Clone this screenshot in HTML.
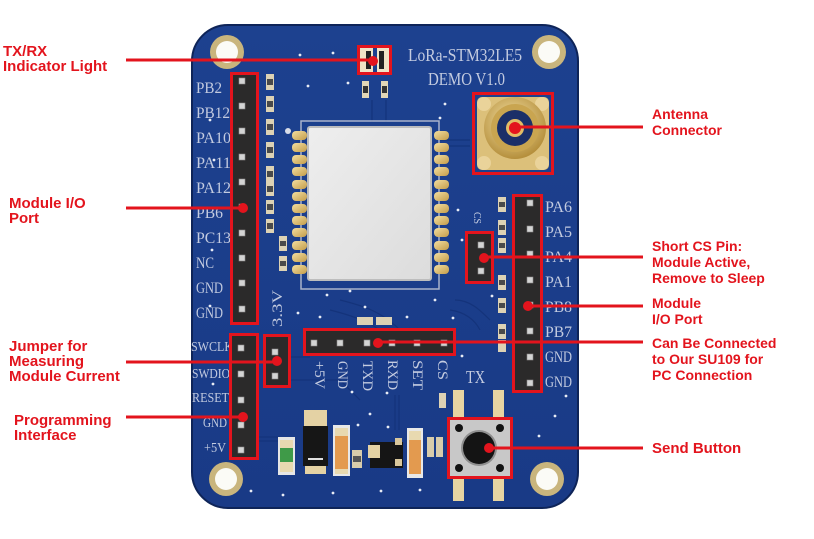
<!DOCTYPE html>
<html><head><meta charset="utf-8">
<style>
html,body{margin:0;padding:0;background:#fff;}
svg{display:block}
.lab{font-family:"Liberation Sans",sans-serif;font-weight:bold;fill:#e3141d;font-size:15px;}
.rl{font-size:14px;}
.silk{font-family:"Liberation Serif",serif;fill:#c3cbe0;}
</style></head><body>
<svg width="814" height="539" viewBox="0 0 814 539" xmlns="http://www.w3.org/2000/svg">
<defs>
<linearGradient id="board" x1="0" y1="0" x2="0" y2="1">
<stop offset="0" stop-color="#1d418f"/><stop offset="1" stop-color="#193a86"/>
</linearGradient>
<linearGradient id="gold" x1="0" y1="0" x2="1" y2="1"><stop offset="0" stop-color="#f3dea0"/><stop offset="1" stop-color="#c49d4a"/></linearGradient>
<radialGradient id="ring" cx="0.45" cy="0.4" r="0.6"><stop offset="0" stop-color="#f6e3a6"/><stop offset="1" stop-color="#b58f3c"/></radialGradient>
<linearGradient id="shield" x1="0" y1="0" x2="1" y2="1"><stop offset="0" stop-color="#eeeeee"/><stop offset="1" stop-color="#dcdcdc"/></linearGradient>
</defs>
<rect width="814" height="539" fill="#fff"/>
<!-- board -->
<rect x="192" y="25" width="386" height="483" rx="36" fill="url(#board)" stroke="#0e2458" stroke-width="2"/>
<!-- traces -->
<g stroke="#14337a" stroke-width="1.2" fill="none" opacity="0.9">
<path d="M259 437 H280"/><path d="M259 441 H280"/>
<path d="M291 357 H310 M291 380 H340 L360 400"/>
<path d="M372 100 V122 M386 100 V122"/>
<path d="M440 140 H470 M440 146 H470"/>
<path d="M455 300 C470 300 480 310 490 320 M450 310 C465 312 475 320 480 330"/>
<path d="M340 300 C360 305 380 310 400 330 M330 310 C350 315 365 320 380 330"/>
<path d="M395 395 V430 M399 395 V430"/>
</g>
<!-- vias -->
<g fill="#e8ecf5">
<circle cx="300" cy="55" r="1.4"/><circle cx="333" cy="53" r="1.4"/><circle cx="308" cy="86" r="1.4"/><circle cx="348" cy="83" r="1.4"/>
<circle cx="445" cy="104" r="1.4"/><circle cx="327" cy="295" r="1.4"/><circle cx="365" cy="307" r="1.4"/><circle cx="407" cy="317" r="1.4"/>
<circle cx="298" cy="313" r="1.4"/><circle cx="320" cy="317" r="1.4"/><circle cx="453" cy="318" r="1.4"/><circle cx="462" cy="240" r="1.4"/>
<circle cx="492" cy="296" r="1.4"/><circle cx="458" cy="210" r="1.4"/><circle cx="350" cy="291" r="1.4"/><circle cx="435" cy="300" r="1.4"/>
<circle cx="352" cy="392" r="1.4"/><circle cx="387" cy="393" r="1.4"/><circle cx="358" cy="425" r="1.4"/><circle cx="370" cy="414" r="1.4"/>
<circle cx="388" cy="427" r="1.4"/><circle cx="251" cy="491" r="1.4"/><circle cx="283" cy="495" r="1.4"/><circle cx="333" cy="493" r="1.4"/>
<circle cx="381" cy="491" r="1.4"/><circle cx="420" cy="490" r="1.4"/><circle cx="555" cy="416" r="1.4"/><circle cx="539" cy="436" r="1.4"/>
<circle cx="566" cy="396" r="1.4"/><circle cx="210" cy="120" r="1.4"/><circle cx="214" cy="160" r="1.4"/><circle cx="212" cy="250" r="1.4"/>
<circle cx="210" cy="306" r="1.4"/><circle cx="213" cy="384" r="1.4"/><circle cx="440" cy="118" r="1.4"/><circle cx="462" cy="356" r="1.4"/>
</g>
<!-- mounting holes -->
<g>
<circle cx="227" cy="52" r="17" fill="#c9b57d"/><circle cx="227" cy="52" r="11" fill="#fbfbf6"/>
<circle cx="549" cy="52" r="17" fill="#c9b57d"/><circle cx="549" cy="52" r="11" fill="#fbfbf6"/>
<circle cx="226" cy="479" r="17" fill="#c9b57d"/><circle cx="226" cy="479" r="11" fill="#fbfbf6"/>
<circle cx="547" cy="479" r="17" fill="#c9b57d"/><circle cx="547" cy="479" r="11" fill="#fbfbf6"/>
</g>
<!-- silk text top -->
<text class="silk" x="408" y="61" font-size="18" textLength="114" lengthAdjust="spacingAndGlyphs" fill="#d5dae6">LoRa-STM32LE5</text>
<text class="silk" x="428" y="85" font-size="18" textLength="77" lengthAdjust="spacingAndGlyphs" fill="#d5dae6">DEMO V1.0</text>
<!-- LEDs -->
<g>
<rect x="360" y="48" width="13" height="24" fill="#efe4c6"/><rect x="366" y="51" width="5" height="18" fill="#222"/>
<rect x="377" y="48" width="13" height="24" fill="#efe4c6"/><rect x="379" y="51" width="5" height="18" fill="#222"/>
<rect x="362" y="81" width="7" height="17" fill="#e2d6b6"/><rect x="363" y="86" width="5" height="7" fill="#333"/>
<rect x="381" y="81" width="7" height="17" fill="#e2d6b6"/><rect x="382" y="86" width="5" height="7" fill="#333"/>
</g>
<!-- left resistor column -->
<g>
<g fill="#ddd2b4"><rect x="266" y="74" width="8" height="16"/><rect x="266" y="96" width="8" height="16"/><rect x="266" y="119" width="8" height="16"/><rect x="266" y="142" width="8" height="16"/><rect x="266" y="166" width="8" height="16"/><rect x="266" y="182" width="8" height="14"/><rect x="266" y="200" width="8" height="14"/><rect x="266" y="219" width="8" height="14"/><rect x="279" y="236" width="8" height="15"/><rect x="279" y="256" width="8" height="15"/></g>
<g fill="#4a4a4a"><rect x="267" y="79" width="6" height="6"/><rect x="267" y="101" width="6" height="6"/><rect x="267" y="124" width="6" height="6"/><rect x="267" y="147" width="6" height="6"/><rect x="267" y="171" width="6" height="6"/><rect x="267" y="186" width="6" height="6"/><rect x="267" y="204" width="6" height="6"/><rect x="267" y="223" width="6" height="6"/><rect x="280" y="241" width="6" height="5"/><rect x="280" y="261" width="6" height="5"/></g>
</g>
<!-- right resistor column -->
<g>
<g fill="#ddd2b4"><rect x="498" y="197" width="8" height="15"/><rect x="498" y="220" width="8" height="15"/><rect x="498" y="238" width="8" height="15"/><rect x="498" y="275" width="8" height="15"/><rect x="498" y="298" width="8" height="15"/><rect x="498" y="324" width="8" height="15"/><rect x="498" y="340" width="8" height="12"/></g>
<g fill="#4a4a4a"><rect x="499" y="202" width="6" height="5"/><rect x="499" y="225" width="6" height="5"/><rect x="499" y="243" width="6" height="5"/><rect x="499" y="280" width="6" height="5"/><rect x="499" y="303" width="6" height="5"/><rect x="499" y="329" width="6" height="5"/></g>
</g>
<!-- module -->
<rect x="301" y="121" width="138" height="168" fill="none" stroke="#a9b3cb" stroke-width="1.5"/>
<g fill="url(#gold)">
<rect x="292" y="131" width="15" height="9" rx="4"/><rect x="292" y="143" width="15" height="9" rx="4"/><rect x="292" y="155" width="15" height="9" rx="4"/><rect x="292" y="167" width="15" height="9" rx="4"/><rect x="292" y="180" width="15" height="9" rx="4"/><rect x="292" y="192" width="15" height="9" rx="4"/><rect x="292" y="204" width="15" height="9" rx="4"/><rect x="292" y="216" width="15" height="9" rx="4"/><rect x="292" y="228" width="15" height="9" rx="4"/><rect x="292" y="241" width="15" height="9" rx="4"/><rect x="292" y="253" width="15" height="9" rx="4"/><rect x="292" y="265" width="15" height="9" rx="4"/>
<rect x="434" y="131" width="15" height="9" rx="4"/><rect x="434" y="143" width="15" height="9" rx="4"/><rect x="434" y="155" width="15" height="9" rx="4"/><rect x="434" y="167" width="15" height="9" rx="4"/><rect x="434" y="180" width="15" height="9" rx="4"/><rect x="434" y="192" width="15" height="9" rx="4"/><rect x="434" y="204" width="15" height="9" rx="4"/><rect x="434" y="216" width="15" height="9" rx="4"/><rect x="434" y="228" width="15" height="9" rx="4"/><rect x="434" y="241" width="15" height="9" rx="4"/><rect x="434" y="253" width="15" height="9" rx="4"/><rect x="434" y="265" width="15" height="9" rx="4"/>
</g>
<rect x="308" y="127" width="123" height="153" rx="2" fill="url(#shield)" stroke="#bdbdbd" stroke-width="2"/>
<circle cx="288" cy="131" r="3" fill="#d8dde8"/>
<!-- antenna -->
<g>
<rect x="477" y="97" width="72" height="73" rx="5" fill="#dcc07a"/>
<circle cx="484" cy="104" r="7" fill="#ead39a"/><circle cx="542" cy="104" r="7" fill="#ead39a"/>
<circle cx="484" cy="163" r="7" fill="#ead39a"/><circle cx="542" cy="163" r="7" fill="#ead39a"/>
<circle cx="515" cy="128" r="31" fill="url(#ring)"/>
<circle cx="515" cy="128" r="24" fill="#c9a550"/>
<circle cx="515" cy="128" r="18" fill="#1b2f68"/>
<circle cx="515" cy="128" r="9" fill="#e2bd66"/>
</g>
<!-- left header labels -->
<g class="silk" font-size="16">
<text x="196" y="93" textLength="26" lengthAdjust="spacingAndGlyphs">PB2</text>
<text x="196" y="118" textLength="34" lengthAdjust="spacingAndGlyphs">PB12</text>
<text x="196" y="143" textLength="35" lengthAdjust="spacingAndGlyphs">PA10</text>
<text x="196" y="168" textLength="35" lengthAdjust="spacingAndGlyphs">PA11</text>
<text x="196" y="193" textLength="35" lengthAdjust="spacingAndGlyphs">PA12</text>
<text x="196" y="218" textLength="27" lengthAdjust="spacingAndGlyphs">PB6</text>
<text x="196" y="243" textLength="35" lengthAdjust="spacingAndGlyphs">PC13</text>
<text x="196" y="268" textLength="18" lengthAdjust="spacingAndGlyphs">NC</text>
<text x="196" y="293" textLength="27" lengthAdjust="spacingAndGlyphs">GND</text>
<text x="196" y="318" textLength="27" lengthAdjust="spacingAndGlyphs">GND</text>
</g>
<g class="silk" font-size="14">
<text x="191" y="351" textLength="42" lengthAdjust="spacingAndGlyphs">SWCLK</text>
<text x="192" y="378" textLength="38" lengthAdjust="spacingAndGlyphs">SWDIO</text>
<text x="192" y="402" textLength="37" lengthAdjust="spacingAndGlyphs">RESET</text>
<text x="203" y="427" textLength="24" lengthAdjust="spacingAndGlyphs">GND</text>
<text x="204" y="452" textLength="22" lengthAdjust="spacingAndGlyphs">+5V</text>
</g>
<!-- right header labels -->
<g class="silk" font-size="16">
<text x="545" y="212" textLength="27" lengthAdjust="spacingAndGlyphs">PA6</text>
<text x="545" y="237" textLength="27" lengthAdjust="spacingAndGlyphs">PA5</text>
<text x="545" y="262" textLength="27" lengthAdjust="spacingAndGlyphs">PA4</text>
<text x="545" y="287" textLength="27" lengthAdjust="spacingAndGlyphs">PA1</text>
<text x="545" y="312" textLength="27" lengthAdjust="spacingAndGlyphs">PB8</text>
<text x="545" y="337" textLength="27" lengthAdjust="spacingAndGlyphs">PB7</text>
<text x="545" y="362" textLength="27" lengthAdjust="spacingAndGlyphs">GND</text>
<text x="545" y="387" textLength="27" lengthAdjust="spacingAndGlyphs">GND</text>
</g>
<!-- rotated silk -->
<g class="silk" font-size="15">
<text transform="translate(315,361) rotate(90)" textLength="28" lengthAdjust="spacingAndGlyphs">+5V</text>
<text transform="translate(338,361) rotate(90)" textLength="28" lengthAdjust="spacingAndGlyphs">GND</text>
<text transform="translate(363,361) rotate(90)" textLength="30" lengthAdjust="spacingAndGlyphs">TXD</text>
<text transform="translate(388,360) rotate(90)" textLength="30" lengthAdjust="spacingAndGlyphs">RXD</text>
<text transform="translate(413,360) rotate(90)" textLength="30" lengthAdjust="spacingAndGlyphs">SET</text>
<text transform="translate(438,360) rotate(90)" textLength="20" lengthAdjust="spacingAndGlyphs">CS</text>
<text transform="translate(282,327) rotate(-90)" textLength="37" lengthAdjust="spacingAndGlyphs">3.3V</text>
<text transform="translate(474,212) rotate(90)" font-size="10" textLength="12" lengthAdjust="spacingAndGlyphs">CS</text>
</g>
<text class="silk" x="466" y="383" font-size="18" textLength="19" lengthAdjust="spacingAndGlyphs">TX</text>
<!-- small parts above bottom header -->
<rect x="357" y="317" width="16" height="8" fill="#ddd2b4"/><rect x="376" y="317" width="16" height="8" fill="#ddd2b4"/>
<!-- headers bodies -->
<g fill="#2b2a2a">
<rect x="232" y="74" width="25" height="249"/>
<rect x="514" y="196" width="27" height="195"/>
<rect x="231" y="335" width="26" height="123"/>
<rect x="265" y="336" width="24" height="50"/>
<rect x="467" y="233" width="25" height="49"/>
<rect x="305" y="330" width="149" height="24"/>
</g>
<!-- pins -->
<g fill="#d4d4d4" stroke="#8a8a8a" stroke-width="0.6">
<rect x="239" y="78" width="6" height="6"/><rect x="239" y="103" width="6" height="6"/><rect x="239" y="128" width="6" height="6"/><rect x="239" y="154" width="6" height="6"/><rect x="239" y="179" width="6" height="6"/><rect x="239" y="204" width="6" height="6"/><rect x="239" y="230" width="6" height="6"/><rect x="239" y="255" width="6" height="6"/><rect x="239" y="280" width="6" height="6"/><rect x="239" y="306" width="6" height="6"/>
<rect x="527" y="200" width="6" height="6"/><rect x="527" y="226" width="6" height="6"/><rect x="527" y="251" width="6" height="6"/><rect x="527" y="277" width="6" height="6"/><rect x="527" y="302" width="6" height="6"/><rect x="527" y="328" width="6" height="6"/><rect x="527" y="354" width="6" height="6"/><rect x="527" y="380" width="6" height="6"/>
<rect x="238" y="345" width="6" height="6"/><rect x="238" y="371" width="6" height="6"/><rect x="238" y="397" width="6" height="6"/><rect x="238" y="422" width="6" height="6"/><rect x="238" y="447" width="6" height="6"/>
<rect x="272" y="349" width="6" height="6"/><rect x="272" y="373" width="6" height="6"/>
<rect x="478" y="242" width="6" height="6"/><rect x="478" y="268" width="6" height="6"/>
<rect x="311" y="340" width="6" height="6"/><rect x="337" y="340" width="6" height="6"/><rect x="364" y="340" width="6" height="6"/><rect x="389" y="340" width="6" height="6"/><rect x="414" y="340" width="6" height="6"/><rect x="441" y="340" width="6" height="6"/>
</g>
<!-- bottom components -->
<g>
<rect x="278" y="437" width="17" height="38" fill="#e6e6e6"/>
<rect x="280" y="440" width="13" height="8" fill="#e8d9b0"/><rect x="280" y="448" width="13" height="14" fill="#3f9a48"/><rect x="280" y="462" width="13" height="10" fill="#e8d9b0"/>
<rect x="304" y="410" width="23" height="16" fill="#e4d2a4"/>
<rect x="303" y="426" width="25" height="40" fill="#161616"/>
<rect x="308" y="458" width="15" height="2" fill="#e0e0e0"/>
<rect x="305" y="466" width="21" height="8" fill="#e4d2a4"/>
<rect x="333" y="425" width="17" height="51" fill="#e8e8e8"/>
<rect x="335" y="428" width="13" height="8" fill="#e8d9b0"/><rect x="335" y="436" width="13" height="33" fill="#e39a4f"/><rect x="335" y="469" width="13" height="5" fill="#e8d9b0"/>
<rect x="352" y="450" width="10" height="18" fill="#d8ccab"/><rect x="353" y="456" width="8" height="6" fill="#555"/>
<rect x="370" y="442" width="33" height="26" fill="#151515"/>
<rect x="368" y="445" width="12" height="13" fill="#e4d2a4"/>
<rect x="395" y="438" width="7" height="7" fill="#d9c79c"/><rect x="395" y="459" width="7" height="7" fill="#d9c79c"/>
<rect x="407" y="428" width="16" height="50" fill="#e8e8e8"/>
<rect x="409" y="431" width="12" height="9" fill="#e8d9b0"/><rect x="409" y="440" width="12" height="34" fill="#e39a4f"/>
<rect x="427" y="437" width="7" height="20" fill="#d8ccab"/><rect x="436" y="437" width="7" height="20" fill="#d8ccab"/>
<rect x="439" y="393" width="7" height="15" fill="#ddd2b4"/>
</g>
<!-- button -->
<g>
<rect x="453" y="390" width="11" height="28" fill="#e6d4a2"/><rect x="493" y="390" width="11" height="28" fill="#e6d4a2"/>
<rect x="453" y="478" width="11" height="23" fill="#e6d4a2"/><rect x="493" y="478" width="11" height="23" fill="#e6d4a2"/>
<rect x="449" y="419" width="62" height="58" fill="#c8c8c8"/>
<circle cx="459" cy="428" r="4" fill="#111"/><circle cx="500" cy="428" r="4" fill="#111"/>
<circle cx="459" cy="468" r="4" fill="#111"/><circle cx="500" cy="468" r="4" fill="#111"/>
<circle cx="479" cy="448" r="18" fill="#8f8f8f"/>
<circle cx="479" cy="448" r="16" fill="#141414"/>
</g>
<!-- red boxes -->
<g fill="none" stroke="#e3141d" stroke-width="3">
<rect x="358.5" y="46.5" width="32" height="27"/>
<rect x="473.5" y="93.5" width="79" height="80"/>
<rect x="231.5" y="73.5" width="26" height="250"/>
<rect x="513.5" y="195.5" width="28" height="196"/>
<rect x="466.5" y="232.5" width="26" height="50"/>
<rect x="304.5" y="329.5" width="150" height="25"/>
<rect x="264.5" y="335.5" width="25" height="51"/>
<rect x="230.5" y="334.5" width="27" height="124"/>
<rect x="448.5" y="418.5" width="63" height="59"/>
</g>
<!-- leader lines -->
<g stroke="#e3141d" stroke-width="3">
<line x1="126" y1="60" x2="373" y2="60"/>
<line x1="126" y1="208" x2="243" y2="208"/>
<line x1="126" y1="362" x2="277" y2="362"/>
<line x1="126" y1="417" x2="243" y2="417"/>
<line x1="515" y1="127" x2="643" y2="127"/>
<line x1="484" y1="257" x2="643" y2="257"/>
<line x1="528" y1="306" x2="643" y2="306"/>
<line x1="378" y1="342" x2="643" y2="342"/>
<line x1="489" y1="448" x2="643" y2="448"/>
</g>
<g fill="#e3141d">
<circle cx="373" cy="61" r="5"/>
<circle cx="243" cy="208" r="5"/>
<circle cx="277" cy="361" r="5"/>
<circle cx="243" cy="417" r="5"/>
<circle cx="515" cy="128" r="6"/>
<circle cx="484" cy="258" r="5"/>
<circle cx="528" cy="306" r="5"/>
<circle cx="378" cy="343" r="5"/>
<circle cx="489" cy="448" r="5"/>
</g>
<!-- labels left -->
<text class="lab" x="3" y="56">TX/RX</text>
<text class="lab" x="3" y="71">Indicator Light</text>
<text class="lab" x="9" y="208">Module I/O</text>
<text class="lab" x="9" y="223">Port</text>
<text class="lab" x="9" y="351">Jumper for</text>
<text class="lab" x="9" y="366">Measuring</text>
<text class="lab" x="9" y="381">Module Current</text>
<text class="lab" x="14" y="425">Programming</text>
<text class="lab" x="14" y="440">Interface</text>
<!-- labels right -->
<text class="lab rl" x="652" y="119">Antenna</text>
<text class="lab rl" x="652" y="135">Connector</text>
<text class="lab rl" x="652" y="251">Short CS Pin:</text>
<text class="lab rl" x="652" y="267">Module Active,</text>
<text class="lab rl" x="652" y="283">Remove to Sleep</text>
<text class="lab rl" x="652" y="308">Module</text>
<text class="lab rl" x="652" y="324">I/O Port</text>
<text class="lab rl" x="652" y="348">Can Be Connected</text>
<text class="lab rl" x="652" y="364">to Our SU109 for</text>
<text class="lab rl" x="652" y="380">PC Connection</text>
<text class="lab" x="652" y="453" font-size="16.5">Send Button</text>
</svg>
</body></html>
